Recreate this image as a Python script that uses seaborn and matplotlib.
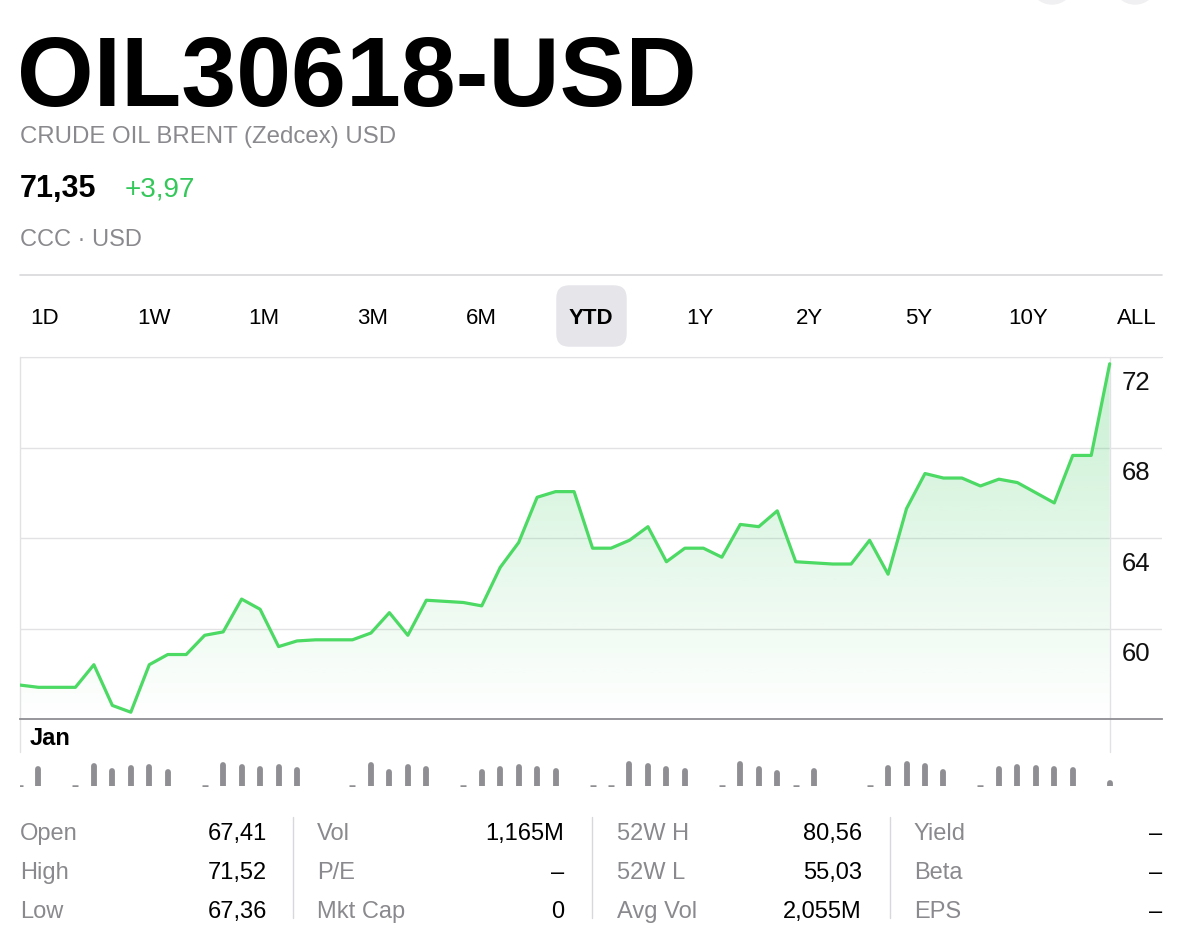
import numpy as np
import matplotlib
matplotlib.use("Agg")
import matplotlib.pyplot as plt
import seaborn as sns
from matplotlib.lines import Line2D
from matplotlib.patches import FancyBboxPatch, Ellipse
from matplotlib.transforms import ScaledTranslation
from matplotlib.colors import to_rgb

# values
symbol = "OIL30618-USD"
name = "CRUDE OIL BRENT (Zedcex) USD"
last_price = "71,35"
change = "+3,97"
exchange = "CCC · USD"
ranges = ["1D", "1W", "1M", "3M", "6M", "YTD", "1Y", "2Y", "5Y", "10Y", "ALL"]
active_range = "YTD"

# one point per calendar day since Jan 1
close = [57.5, 57.4, 57.4, 57.4, 58.4, 56.6, 56.3, 58.4, 58.85, 58.85,
         59.7, 59.85, 61.3, 60.85, 59.2, 59.45, 59.5, 59.5, 59.5, 59.8,
         60.7, 59.7, 61.25, 61.2, 61.15, 61.0, 62.7, 63.8, 65.8, 66.05,
         66.05, 63.55, 63.55, 63.9, 64.5, 62.95, 63.55, 63.55, 63.15, 64.6,
         64.5, 65.2, 62.95, 62.9, 62.85, 62.85, 63.9, 62.4, 65.3, 66.85,
         66.65, 66.65, 66.3, 66.6, 66.45, 66.0, 65.55, 67.65, 67.65, 71.7]

# relative daily volume (0 = closed, 0.5 = almost empty session)
volume = [0.5, 17, 0, 0.5, 20, 15, 18, 19, 14, 0,
          0.5, 21, 19, 17, 19, 16, 0, 0, 0.5, 21,
          14, 19, 17, 0, 0.5, 14, 17, 19, 17, 15,
          0, 0.5, 0.5, 22, 20, 17, 15, 0, 0.5, 22,
          17, 13, 0.5, 15, 0, 0, 0.5, 18, 22, 20,
          14, 0, 0.5, 17, 19, 18, 17, 16, 0, 3]

y_ticks = [60, 64, 68, 72]
month_labels = ["Jan"]

stat_labels = [["Open", "High", "Low"],
               ["Vol", "P/E", "Mkt Cap"],
               ["52W H", "52W L", "Avg Vol"],
               ["Yield", "Beta", "EPS"]]
stat_values = [["67,41", "71,52", "67,36"],
               ["1,165M", "–", "0"],
               ["80,56", "55,03", "2,055M"],
               ["–", "–", "–"]]

sns.set_style("white")
plt.rcParams["font.family"] = ["Liberation Sans", "DejaVu Sans"]
plt.rcParams["text.color"] = "black"

W, H = 1200, 946
fig = plt.figure(figsize=(W / 100, H / 100), dpi=100)


def fx(x):
    return x / W


def fy(y):
    return 1 - y / H


GREEN = "#4cd964"
TEXT_GREEN = "#34c759"
GRAY = "#8a8a8e"
BAR_GRAY = "#8e8e93"
LIGHT = "#e2e2e5"

days = np.arange(len(close))
xmax = (len(close) - 1) * 1.048

# price chart
ax = fig.add_axes([fx(20), fy(719), fx(1162) - fx(20), fy(357) - fy(719)])
sns.lineplot(x=days, y=close, ax=ax, color=GREEN, lw=2.3, zorder=3,
             solid_joinstyle="round")

fill = ax.fill_between(days, close, 56, color="none", lw=0)
grad = np.zeros((256, 1, 4))
grad[..., :3] = to_rgb(TEXT_GREEN)
grad[..., 3] = np.linspace(0.0, 0.28, 256)[:, None]
im = ax.imshow(grad, extent=[0, len(close) - 1, 56, 72], origin="lower",
               aspect="auto", zorder=2)
im.set_clip_path(fill.get_paths()[0], transform=ax.transData)

ax.set_xlim(0, xmax)
ax.set_ylim(56, 72)
ax.set_xlabel("")
ax.set_ylabel("")
ax.set_yticks(y_ticks)
ax.yaxis.tick_right()
ax.grid(axis="y", color=LIGHT, lw=1)
ax.grid(axis="x", visible=False)
for s in ["left", "right"]:
    ax.spines[s].set_visible(False)
ax.spines["top"].set_color(LIGHT)
ax.spines["bottom"].set_color(BAR_GRAY)
ax.spines["bottom"].set_linewidth(1.3)
ax.tick_params(axis="y", length=0, pad=-29, labelsize=18.5, labelcolor="#111111")
for lab in ax.get_yticklabels():
    lab.set_transform(lab.get_transform() + ScaledTranslation(0, -0.23, fig.dpi_scale_trans))

ax.set_xticks([0], month_labels)
ax.tick_params(axis="x", length=0, pad=6, labelsize=17, labelcolor="black")
for lab in ax.get_xticklabels():
    lab.set_fontweight("bold")
    lab.set_ha("left")
    lab.set_transform(lab.get_transform() + ScaledTranslation(0.1, 0, fig.dpi_scale_trans))

ax.axvline(0, ymin=-33 / 362, ymax=1, color=LIGHT, lw=1, clip_on=False)
ax.axvline(days[-1], ymin=-33 / 362, ymax=1, color=LIGHT, lw=1, clip_on=False)

# volume strip
vax = fig.add_axes([fx(20), fy(786), fx(1162) - fx(20), 30 / H])
vax.set_xlim(0, xmax)
vax.set_ylim(0, 30)
vax.axis("off")
vol = np.array(volume)
bars = vol >= 1
dash = (vol > 0) & (vol < 1)
lc = vax.vlines(days[bars], 0, vol[bars], colors=BAR_GRAY, lw=4.2)
lc.set_capstyle("round")
vax.scatter(days[dash], np.zeros(dash.sum()), marker="_", s=14,
            color=BAR_GRAY, linewidths=1.8)

# header
fig.text(fx(17), fy(106), symbol, fontsize=71, fontweight="bold", va="baseline",
         color="black")
fig.text(fx(20), fy(143), name, fontsize=17.3, color=GRAY, va="baseline")
fig.text(fx(20), fy(197), last_price, fontsize=22, fontweight="bold", va="baseline",
         color="black")
fig.text(fx(125), fy(197), change, fontsize=20, color=TEXT_GREEN, va="baseline")
fig.text(fx(20), fy(246), exchange, fontsize=17, color=GRAY, va="baseline")
fig.add_artist(Line2D([fx(20), fx(1162)], [fy(275)] * 2, color="#d8d8dc", lw=1.2))

for cx in [10.52, 11.35]:
    fig.add_artist(Ellipse((cx, 9.64), 0.44, 0.44, color="#f0f0f2",
                           transform=fig.dpi_scale_trans, clip_on=False))

# range selector
fig.add_artist(FancyBboxPatch((5.57, (H - 346) / 100), 0.69, 0.60,
                              boxstyle="round,pad=0,rounding_size=0.12",
                              color="#e5e5ea", transform=fig.dpi_scale_trans))
for k, r in enumerate(ranges):
    fig.text(fx(45 + 109.2 * k), fy(324), r, ha="center", va="baseline", fontsize=16,
             color="black", fontweight="bold" if r == active_range else "normal")

# stats table
label_x = [20, 317, 617, 914]
value_x = [267, 564, 862, 1162]
row_y = [840, 879, 918]
for c in range(4):
    for r in range(3):
        fig.text(fx(label_x[c]), fy(row_y[r]), stat_labels[c][r], fontsize=17,
                 color=GRAY, va="baseline")
        fig.text(fx(value_x[c]), fy(row_y[r]), stat_values[c][r], fontsize=17,
                 color="black", va="baseline", ha="right")
for sx in [293, 592, 890]:
    fig.add_artist(Line2D([fx(sx)] * 2, [fy(817), fy(918)], color="#d8d8dc", lw=1))

fig.savefig("out.png", dpi=100)
